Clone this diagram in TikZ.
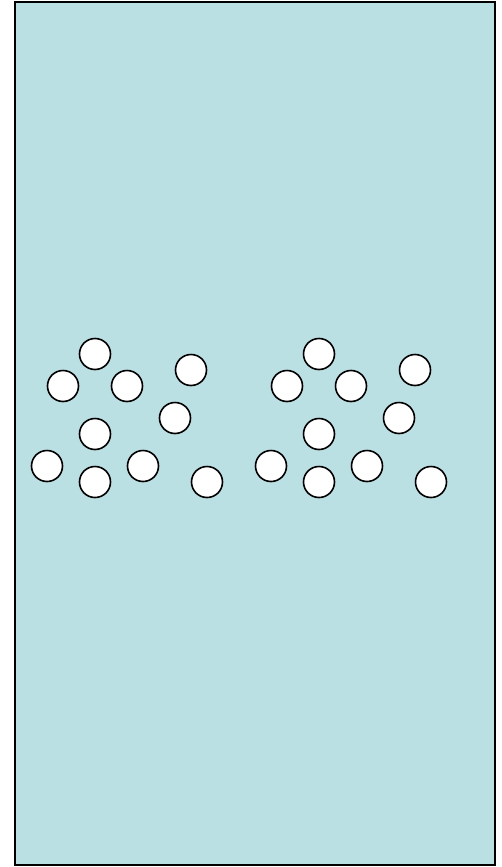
\documentclass[tikz,border=0pt]{standalone}
\definecolor{bg}{RGB}{187,224,227}
\begin{document}
\begin{tikzpicture}[x=1pt,y=-1pt,
  ball/.style={circle,draw=black,fill=white,line width=1.6pt,minimum size=31pt,inner sep=0pt}]
\useasboundingbox (0,0) rectangle (502,867);
\node[draw=black,fill=bg,line width=1.5pt,minimum width=480pt,minimum height=863pt,inner sep=0pt] (box) at (255,433.5) {};
\foreach \dx/\g in {0/a,224/b}{
  \node[ball] (\g1) at (95+\dx,354) {};
  \node[ball] (\g2) at (63+\dx,386) {};
  \node[ball] (\g3) at (127+\dx,386) {};
  \node[ball] (\g4) at (191+\dx,370) {};
  \node[ball] (\g5) at (175+\dx,418) {};
  \node[ball] (\g6) at (95+\dx,434) {};
  \node[ball] (\g7) at (47+\dx,466) {};
  \node[ball] (\g8) at (95+\dx,482) {};
  \node[ball] (\g9) at (143+\dx,466) {};
  \node[ball] (\g10) at (207+\dx,482) {};
}
\end{tikzpicture}
\end{document}
